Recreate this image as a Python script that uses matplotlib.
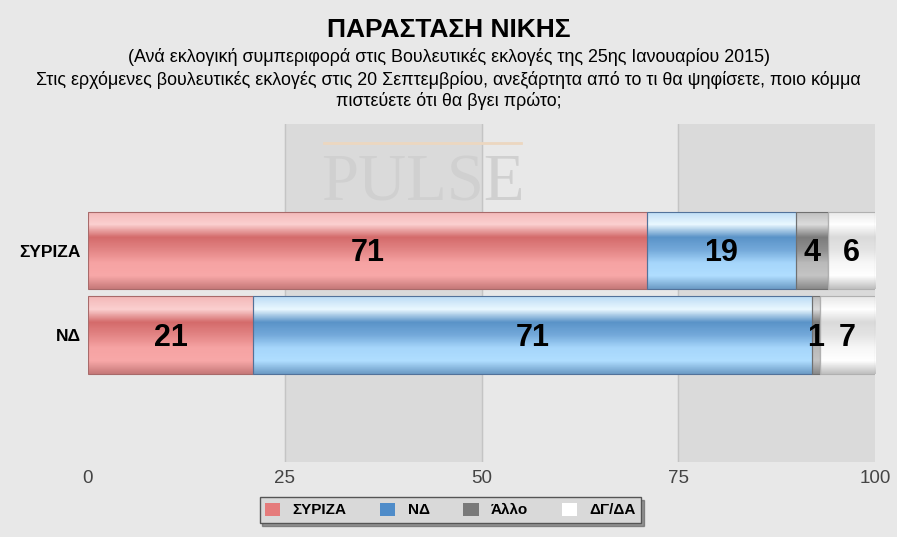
import numpy as np
import matplotlib.pyplot as plt
from matplotlib.colors import LinearSegmentedColormap
from matplotlib.patches import Patch

plt.rcParams['font.family'] = ['Liberation Sans', 'DejaVu Sans']

# ── Datos ────────────────────────────────────────────────────────────────
categories = ['ΣΥΡΙΖΑ', 'ΝΔ']
series = ['ΣΥΡΙΖΑ', 'ΝΔ', 'Άλλο', 'ΔΓ/ΔΑ']
values = {
    'ΣΥΡΙΖΑ': [71, 21],
    'ΝΔ':     [19, 71],
    'Άλλο':   [4, 1],
    'ΔΓ/ΔΑ':  [6, 7],
}
ticks = [0, 25, 50, 75, 100]

# gradiente vertical (arriba -> abajo) por serie
grads = {
    'ΣΥΡΙΖΑ': ['#f3b8b8', '#fbd0d0', '#d46b6b', '#e38585', '#f6a3a3', '#f8a8a8', '#c77a7a'],
    'ΝΔ':     ['#bcdcf5', '#eaf8ff', '#5a93c8', '#74a9da', '#a6d6fb', '#b0deff', '#6d9cc6'],
    'Άλλο':   ['#bdbdbd', '#dcdcdc', '#7c7c7c', '#8f8f8f', '#bababa', '#c4c4c4', '#8a8a8a'],
    'ΔΓ/ΔΑ':  ['#e8e8e8', '#ffffff', '#dadada', '#e4e4e4', '#f7f7f7', '#ffffff', '#c0c0c0'],
}
legend_colors = {'ΣΥΡΙΖΑ': '#e57b7b', 'ΝΔ': '#4f8cc9', 'Άλλο': '#7a7a7a', 'ΔΓ/ΔΑ': '#ffffff'}
edge_colors = {'ΣΥΡΙΖΑ': '#a86a6a', 'ΝΔ': '#52729a', 'Άλλο': '#707070', 'ΔΓ/ΔΑ': '#b0b0b0'}

bg = '#e8e8e8'
fig = plt.figure(figsize=(8.97, 5.37), dpi=100, facecolor=bg)
ax = fig.add_axes([0.0981, 0.1397, 0.8774, 0.6294])
ax.set_facecolor(bg)

# bandas alternas
for a, b in [(25, 50), (75, 100)]:
    ax.axvspan(a, b, color='#dadada', zorder=0)
for t in [25, 50, 75]:
    ax.axvline(t, color='#c4c4c4', lw=1, zorder=0.5)

# marca de agua
ax.text(42.5, -0.80, 'PULSE', fontsize=48, family='Liberation Serif',
        color='#d0d0d0', ha='center', va='center', zorder=1)
ax.plot([30, 55], [-1.28, -1.28], color='#ecd7c0', lw=2, zorder=1)

h = 0.917
ypos = np.arange(len(categories))
left = np.zeros(len(categories))
for s in series:
    vals = np.array(values[s], dtype=float)
    cmap = LinearSegmentedColormap.from_list(s, grads[s])
    grad = np.linspace(0, 1, 100).reshape(-1, 1)
    bars = ax.barh(ypos, vals, left=left, height=h, color='none',
                   edgecolor=edge_colors[s], linewidth=0.8, zorder=3)
    for bar in bars:
        x0, y0 = bar.get_x(), bar.get_y()
        w, hh = bar.get_width(), bar.get_height()
        im = ax.imshow(grad, cmap=cmap, aspect='auto', zorder=2,
                       extent=(x0, x0 + w, y0 + hh, y0), origin='upper')
        im.set_clip_path(bar)
    for i, v in enumerate(vals):
        ax.text(left[i] + v / 2, ypos[i] + 0.03, f'{v:.0f}', ha='center', va='center',
                fontsize=22, fontweight='bold', color='black', zorder=4)
    left += vals

ax.set_yticks(ypos)
ax.set_yticklabels(categories, fontsize=12.5, fontweight='bold')
ax.set_xticks(ticks)
ax.set_xticklabels([str(t) for t in ticks], fontsize=13.5, color='#444444')
ax.tick_params(length=0, pad=6)
ax.tick_params(axis='y', pad=5)
for sp in ax.spines.values():
    sp.set_visible(False)
ax.set_xlim(0, 100)
ax.set_ylim(2.51, -1.51)

fig.text(0.5, 0.945, 'ΠΑΡΑΣΤΑΣΗ ΝΙΚΗΣ', ha='center', va='center',
         fontsize=19, fontweight='bold')
fig.text(0.5, 0.893, '(Ανά εκλογική συμπεριφορά στις Βουλευτικές εκλογές της 25ης Ιανουαρίου 2015)',
         ha='center', va='center', fontsize=12.9)
fig.text(0.5, 0.851, 'Στις ερχόμενες βουλευτικές εκλογές στις 20 Σεπτεμβρίου, ανεξάρτητα από το τι θα ψηφίσετε, ποιο κόμμα',
         ha='center', va='center', fontsize=12.9)
fig.text(0.5, 0.811, 'πιστεύετε ότι θα βγει πρώτο;', ha='center', va='center', fontsize=12.9)

handles = [Patch(facecolor=legend_colors[s], edgecolor='none') for s in series]
leg = fig.legend(handles, series, loc='center', bbox_to_anchor=(0.502, 0.05), ncol=4,
                 fontsize=11, frameon=True, fancybox=False, shadow=True,
                 handlelength=1.0, handleheight=0.9, columnspacing=2.2,
                 borderpad=0.35, handletextpad=0.8)
leg.get_frame().set_facecolor('#d9d9d9')
leg.get_frame().set_edgecolor('#555555')
for t in leg.get_texts():
    t.set_fontweight('bold')

plt.savefig('out.png', dpi=100, facecolor=bg)
